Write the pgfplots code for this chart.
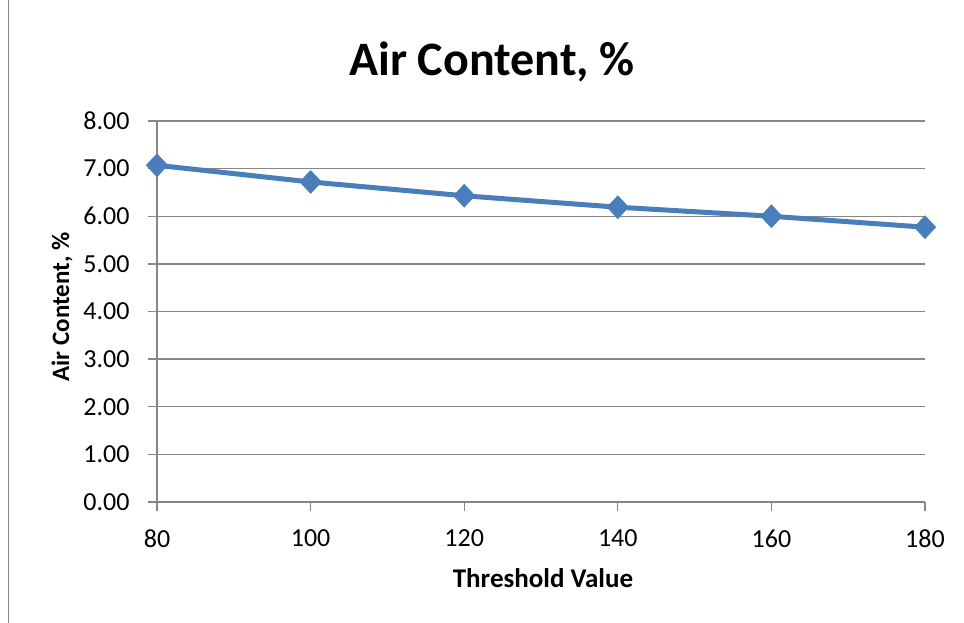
\documentclass[border=0pt]{standalone}
\usepackage{pgfplots}
\pgfplotsset{compat=1.18}
\usepackage{fontspec}
\setmainfont{Carlito}
\definecolor{xlblue}{HTML}{4A7EBB}
\definecolor{gridgray}{HTML}{868686}
\begin{document}
\begin{tikzpicture}[x=1pt,y=1pt]
\path[use as bounding box] (0,0) rectangle (964,623);
\draw[gridgray, line width=1pt] (8.5,0) -- (8.5,623);
\begin{axis}[
  at={(157pt,121pt)}, anchor=south west,
  scale only axis, width=768pt, height=381pt,
  xmin=80, xmax=180, ymin=0, ymax=8,
  xtick={80,100,...,180}, ytick={0,1,...,8},
  ymajorgrids, grid style={gridgray, line width=1.3pt},
  axis x line*=bottom, axis y line*=left,
  axis line style={gridgray, line width=1.3pt},
  tick style={gridgray, line width=1.3pt},
  tick align=outside, major tick length=9pt,
  /pgf/number format/assume math mode=true,
  ticklabel style={font=\fontsize{26}{30}\selectfont, text=black},
  yticklabel style={xshift=-15pt, /pgf/number format/.cd, fixed, fixed zerofill, precision=2},
  xticklabel style={yshift=-15pt, /pgf/number format/.cd, fixed, precision=0},
  clip=false,
]
\addplot[xlblue, line width=5pt, mark=diamond*, mark size=11.5pt,
  mark options={fill=xlblue, draw=xlblue, line width=0.5pt, xscale=1.25}]
  coordinates {(80,7.07) (100,6.72) (120,6.43) (140,6.19) (160,6.00) (180,5.77)};
\end{axis}
\node[font=\bfseries\fontsize{48}{54}\selectfont] at (492,561) {Air Content, \%};
\node[font=\bfseries\fontsize{27}{32}\selectfont] at (543,45) {Threshold Value};
\node[font=\bfseries\fontsize{25}{30}\selectfont, rotate=90] at (62,316) {Air Content, \%};
\end{tikzpicture}
\end{document}
